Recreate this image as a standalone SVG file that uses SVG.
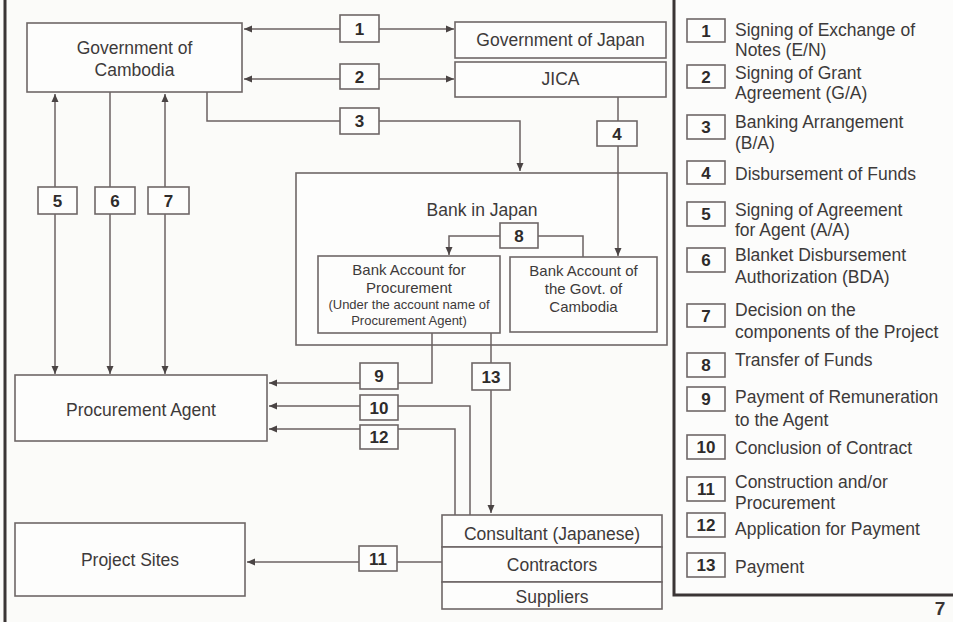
<svg xmlns="http://www.w3.org/2000/svg" width="953" height="622" viewBox="0 0 953 622">
<defs>
<style>
.bg{fill:#fbfbf9}
.node{fill:#fdfdfc;stroke:#6e6767;stroke-width:1.6}
.lbl{fill:#fdfdfc;stroke:#6e6767;stroke-width:1.6}
.t{font-family:"Liberation Sans",Arial,sans-serif;font-size:17.5px;fill:#3d3a3a;text-anchor:middle}
.ts{font-family:"Liberation Sans",Arial,sans-serif;font-size:15px;fill:#3d3a3a;text-anchor:middle}
.tx{font-family:"Liberation Sans",Arial,sans-serif;font-size:13px;fill:#3d3a3a;text-anchor:middle}
.n{font-family:"Liberation Sans",Arial,sans-serif;font-size:17px;font-weight:bold;fill:#2e2b2b;text-anchor:middle}
.lt{font-family:"Liberation Sans",Arial,sans-serif;font-size:17.5px;fill:#3d3a3a}
.c{fill:none;stroke:#6b6262;stroke-width:1.5}
</style>
<marker id="ah" markerUnits="userSpaceOnUse" viewBox="0 0 8 8" refX="8" refY="4" markerWidth="8" markerHeight="8" orient="auto-start-reverse">
<path d="M0,0.5 L8,4 L0,7.5 z" fill="#4a4444"/>
</marker>
</defs>
<rect class="bg" x="0" y="0" width="953" height="622"/>
<line x1="5" y1="0" x2="5" y2="622" stroke="#3a3535" stroke-width="3"/>

<g id="bank-japan">
<rect class="node" x="296" y="173" width="371" height="172"/>
<text class="t" x="482" y="216">Bank in Japan</text>
</g>

<g id="connectors">
<line class="c" x1="244" y1="29" x2="454" y2="29" marker-start="url(#ah)" marker-end="url(#ah)"/>
<line class="c" x1="244" y1="79" x2="454" y2="79" marker-start="url(#ah)" marker-end="url(#ah)"/>
<polyline class="c" points="207,92 207,121 520,121 520,171" marker-end="url(#ah)"/>
<line class="c" x1="618" y1="97" x2="618" y2="256" marker-end="url(#ah)"/>
<line class="c" x1="55" y1="94" x2="55" y2="374" marker-start="url(#ah)" marker-end="url(#ah)"/>
<line class="c" x1="110" y1="92" x2="110" y2="374" marker-end="url(#ah)"/>
<line class="c" x1="165" y1="94" x2="165" y2="374" marker-start="url(#ah)" marker-end="url(#ah)"/>
<polyline class="c" points="500,236 449,236 449,255" marker-end="url(#ah)"/>
<polyline class="c" points="538,236 583,236 583,257"/>
<polyline class="c" points="432,333 432,383 269,383" marker-end="url(#ah)"/>
<polyline class="c" points="470,515 470,406 269,406" marker-end="url(#ah)"/>
<polyline class="c" points="455,515 455,429 269,429" marker-end="url(#ah)"/>
<line class="c" x1="491" y1="333" x2="491" y2="513" marker-end="url(#ah)"/>
<line class="c" x1="442" y1="562" x2="247" y2="562" marker-end="url(#ah)"/>
</g>

<g id="gov-cambodia">
<rect class="node" x="27" y="23" width="215" height="69"/>
<text class="t" x="134.5" y="54">Government of</text>
<text class="t" x="134.5" y="76">Cambodia</text>
</g>
<g id="gov-japan">
<rect class="node" x="455" y="22" width="211" height="36"/>
<text class="t" x="560.5" y="46">Government of Japan</text>
</g>
<g id="jica">
<rect class="node" x="455" y="62" width="211" height="35"/>
<text class="t" x="560.5" y="85">JICA</text>
</g>
<g id="bank-procurement">
<rect class="node" x="318" y="256" width="182" height="77"/>
<text class="ts" x="409" y="275">Bank Account for</text>
<text class="ts" x="409" y="293">Procurement</text>
<text class="tx" x="409" y="309">(Under the account name of</text>
<text class="tx" x="409" y="325">Procurement Agent)</text>
</g>
<g id="bank-govt">
<rect class="node" x="510" y="257" width="147" height="75"/>
<text class="ts" x="583.5" y="276">Bank Account of</text>
<text class="ts" x="583.5" y="294">the Govt. of</text>
<text class="ts" x="583.5" y="312">Cambodia</text>
</g>
<g id="procurement-agent">
<rect class="node" x="15" y="375" width="252" height="66"/>
<text class="t" x="141" y="416">Procurement Agent</text>
</g>
<g id="project-sites">
<rect class="node" x="15" y="523" width="230" height="73"/>
<text class="t" x="130" y="566">Project Sites</text>
</g>
<g id="consultant">
<rect class="node" x="442" y="515" width="220" height="32"/>
<text class="t" x="552" y="540">Consultant (Japanese)</text>
</g>
<g id="contractors">
<rect class="node" x="442" y="547" width="220" height="35"/>
<text class="t" x="552" y="571">Contractors</text>
</g>
<g id="suppliers">
<rect class="node" x="442" y="582" width="220" height="27"/>
<text class="t" x="552" y="603">Suppliers</text>
</g>

<g id="labels">
<rect class="lbl" x="340" y="15" width="39" height="27"/><text class="n" x="359.5" y="35">1</text>
<rect class="lbl" x="340" y="64" width="39" height="25"/><text class="n" x="359.5" y="83">2</text>
<rect class="lbl" x="340" y="108" width="39" height="26"/><text class="n" x="359.5" y="127">3</text>
<rect class="lbl" x="597" y="121" width="40" height="25"/><text class="n" x="617" y="140">4</text>
<rect class="lbl" x="38" y="187" width="39" height="27"/><text class="n" x="57.5" y="207">5</text>
<rect class="lbl" x="95" y="187" width="40" height="27"/><text class="n" x="115" y="207">6</text>
<rect class="lbl" x="148" y="187" width="41" height="27"/><text class="n" x="168.5" y="207">7</text>
<rect class="lbl" x="500" y="223" width="38" height="25"/><text class="n" x="519" y="242">8</text>
<rect class="lbl" x="360" y="363" width="38" height="26"/><text class="n" x="379" y="382">9</text>
<rect class="lbl" x="360" y="395" width="38" height="25"/><text class="n" x="379" y="414">10</text>
<rect class="lbl" x="359" y="546" width="38" height="25"/><text class="n" x="378" y="565">11</text>
<rect class="lbl" x="360" y="425" width="38" height="24"/><text class="n" x="379" y="443">12</text>
<rect class="lbl" x="472" y="363" width="38" height="27"/><text class="n" x="491" y="383">13</text>
</g>

<g id="legend">
<rect x="674" y="-3" width="284" height="598" fill="#fcfcfb" stroke="#3a3535" stroke-width="3"/>
<rect class="lbl" x="687" y="19" width="38" height="23"/><text class="n" x="706" y="37">1</text>
<text class="lt" x="735" y="36">Signing of Exchange of</text>
<text class="lt" x="735" y="56">Notes (E/N)</text>
<rect class="lbl" x="687" y="65" width="38" height="23"/><text class="n" x="706" y="83">2</text>
<text class="lt" x="735" y="79">Signing of Grant</text>
<text class="lt" x="735" y="99">Agreement (G/A)</text>
<rect class="lbl" x="687" y="115" width="38" height="24"/><text class="n" x="706" y="133">3</text>
<text class="lt" x="735" y="128">Banking Arrangement</text>
<text class="lt" x="735" y="149">(B/A)</text>
<rect class="lbl" x="687" y="161" width="38" height="23"/><text class="n" x="706" y="179">4</text>
<text class="lt" x="735" y="180">Disbursement of Funds</text>
<rect class="lbl" x="687" y="202" width="38" height="24"/><text class="n" x="706" y="220">5</text>
<text class="lt" x="735" y="216">Signing of Agreement</text>
<text class="lt" x="735" y="236">for Agent (A/A)</text>
<rect class="lbl" x="687" y="248" width="38" height="24"/><text class="n" x="706" y="266">6</text>
<text class="lt" x="735" y="261">Blanket Disbursement</text>
<text class="lt" x="735" y="283">Authorization (BDA)</text>
<rect class="lbl" x="687" y="304" width="38" height="23"/><text class="n" x="706" y="322">7</text>
<text class="lt" x="735" y="316">Decision on the</text>
<text class="lt" x="735" y="338">components of the Project</text>
<rect class="lbl" x="687" y="353" width="38" height="24"/><text class="n" x="706" y="371">8</text>
<text class="lt" x="735" y="366">Transfer of Funds</text>
<rect class="lbl" x="687" y="387" width="38" height="24"/><text class="n" x="706" y="405">9</text>
<text class="lt" x="735" y="403">Payment of Remuneration</text>
<text class="lt" x="735" y="426">to the Agent</text>
<rect class="lbl" x="687" y="435" width="38" height="24"/><text class="n" x="706" y="453">10</text>
<text class="lt" x="735" y="454">Conclusion of Contract</text>
<rect class="lbl" x="687" y="477" width="38" height="24"/><text class="n" x="706" y="495">11</text>
<text class="lt" x="735" y="488">Construction and/or</text>
<text class="lt" x="735" y="509">Procurement</text>
<rect class="lbl" x="687" y="513" width="38" height="24"/><text class="n" x="706" y="531">12</text>
<text class="lt" x="735" y="535">Application for Payment</text>
<rect class="lbl" x="687" y="553" width="38" height="24"/><text class="n" x="706" y="571">13</text>
<text class="lt" x="735" y="573">Payment</text>
</g>
<text x="940" y="615" font-family="'Liberation Sans',Arial,sans-serif" font-size="19" font-weight="bold" fill="#3a3535" text-anchor="middle">7</text>
</svg>
